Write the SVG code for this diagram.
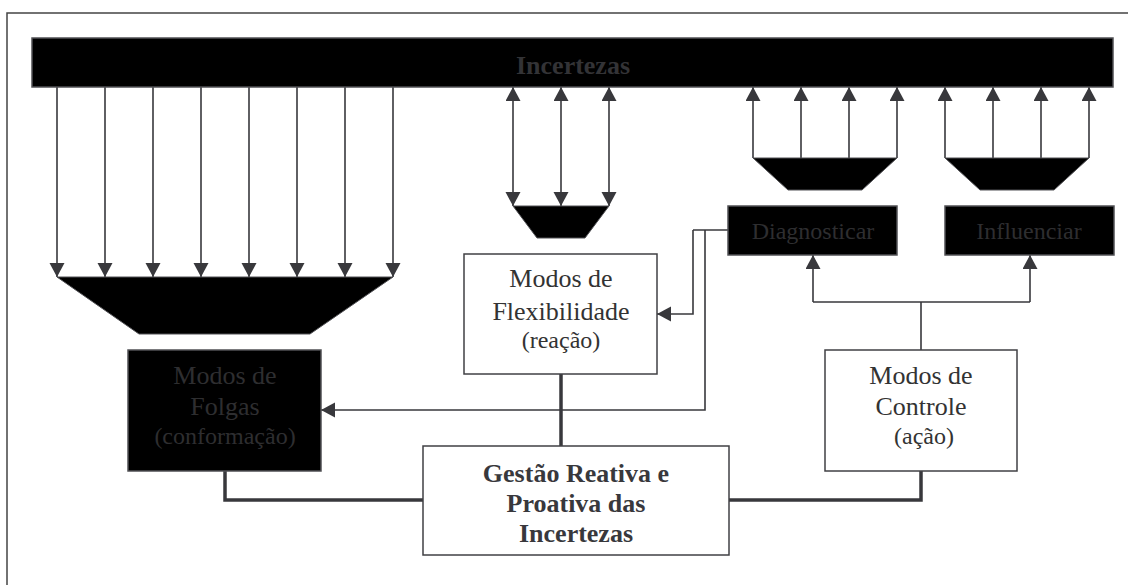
<svg xmlns="http://www.w3.org/2000/svg" width="1128" height="585" viewBox="0 0 1128 585">
<defs>
<marker id="ah" markerUnits="userSpaceOnUse" markerWidth="15" markerHeight="16" refX="14" refY="7.5" orient="auto-start-reverse">
<path d="M0,0 L14,7.5 L0,15 z" fill="#38383c"/>
</marker>
<style>
.thin{fill:none;stroke:#38383c;stroke-width:1.6}
.thick{fill:none;stroke:#38383c;stroke-width:3.5}
.arr{fill:none;stroke:#38383c;stroke-width:1.6;marker-end:url(#ah)}
.darr{fill:none;stroke:#38383c;stroke-width:1.6;marker-start:url(#ah);marker-end:url(#ah)}
.wbox{fill:#fff;stroke:#404044;stroke-width:1.5}
.bbox{fill:#000;stroke:#505054;stroke-width:1.5}
.trap{fill:#000;stroke:#505054;stroke-width:1}
.t{font-family:"Liberation Serif","Times New Roman",serif;font-size:26px;fill:#333;text-anchor:middle}
.s{font-family:"Liberation Serif","Times New Roman",serif;font-size:24px;fill:#333;text-anchor:middle}
.b{font-family:"Liberation Serif","Times New Roman",serif;font-size:26px;font-weight:bold;fill:#38383c;text-anchor:middle}
</style>
</defs>
<rect width="1128" height="585" fill="#fff"/>
<path d="M7,585 V13 H1128" fill="none" stroke="#444" stroke-width="1.5"/>

<g id="connectors">
<path class="arr" d="M57,87 V277"/>
<path class="arr" d="M105,87 V277"/>
<path class="arr" d="M153,87 V277"/>
<path class="arr" d="M201,87 V277"/>
<path class="arr" d="M249,87 V277"/>
<path class="arr" d="M297,87 V277"/>
<path class="arr" d="M345,87 V277"/>
<path class="arr" d="M393,87 V277"/>
<path class="darr" d="M513,87 V206"/>
<path class="darr" d="M561,87 V206"/>
<path class="darr" d="M609,87 V206"/>
<path class="arr" d="M753,158 V87"/>
<path class="arr" d="M801,158 V87"/>
<path class="arr" d="M849,158 V87"/>
<path class="arr" d="M897,158 V87"/>
<path class="arr" d="M945,158 V87"/>
<path class="arr" d="M993,158 V87"/>
<path class="arr" d="M1041,158 V87"/>
<path class="arr" d="M1089,158 V87"/>
<path class="thin" d="M728,230 H693"/>
<path class="arr" d="M693,230 V314 H657"/>
<path class="arr" d="M705,230 V410 H321"/>
<path class="thick" d="M561,374 V446"/>
<path class="thick" d="M225,471 V500 H423"/>
<path class="thick" d="M729,500 H921 V471"/>
<path class="thin" d="M921,350 V302 M813,302 H1030"/>
<path class="arr" d="M813,302 V255"/>
<path class="arr" d="M1030,302 V255"/>
</g>

<g id="incertezas">
<rect class="bbox" x="32" y="38" width="1081" height="49"/>
<text class="b" x="573" y="74" style="fill:#333336">Incertezas</text>
</g>

<g id="trap-folgas">
<polygon class="trap" points="57,277 393,277 310,334 139,334"/>
</g>
<g id="trap-flex">
<polygon class="trap" points="513,206 609,206 585,238 537,238"/>
</g>
<g id="trap-diag">
<polygon class="trap" points="753,158 897,158 862,190 788,190"/>
</g>
<g id="trap-influ">
<polygon class="trap" points="945,158 1089,158 1054,190 980,190"/>
</g>

<g id="diagnosticar">
<rect class="bbox" x="728" y="206" width="169" height="49"/>
<text class="s" x="813" y="239" style="fill:#2e2e30">Diagnosticar</text>
</g>
<g id="influenciar">
<rect class="bbox" x="945" y="206" width="169" height="49"/>
<text class="s" x="1029" y="239" style="fill:#2e2e30">Influenciar</text>
</g>

<g id="flexibilidade">
<rect class="wbox" x="464" y="254" width="193" height="120"/>
<text class="t" x="561" y="287">Modos de</text>
<text class="t" x="561" y="320">Flexibilidade</text>
<text class="s" x="561" y="348">(reação)</text>
</g>

<g id="folgas">
<rect class="bbox" x="128" y="350" width="193" height="121"/>
<text class="t" x="225" y="384" style="fill:#2e2e30">Modos de</text>
<text class="t" x="225" y="415" style="fill:#2e2e30">Folgas</text>
<text class="s" x="225" y="444" style="fill:#2e2e30">(conformação)</text>
</g>

<g id="controle">
<rect class="wbox" x="825" y="350" width="192" height="121"/>
<text class="t" x="921" y="384">Modos de</text>
<text class="t" x="921" y="415">Controle</text>
<text class="s" x="924" y="444">(ação)</text>
</g>

<g id="gestao">
<rect class="wbox" x="423" y="446" width="306" height="109"/>
<text class="b" x="576" y="482">Gestão Reativa e</text>
<text class="b" x="576" y="512">Proativa das</text>
<text class="b" x="576" y="542">Incertezas</text>
</g>
</svg>
